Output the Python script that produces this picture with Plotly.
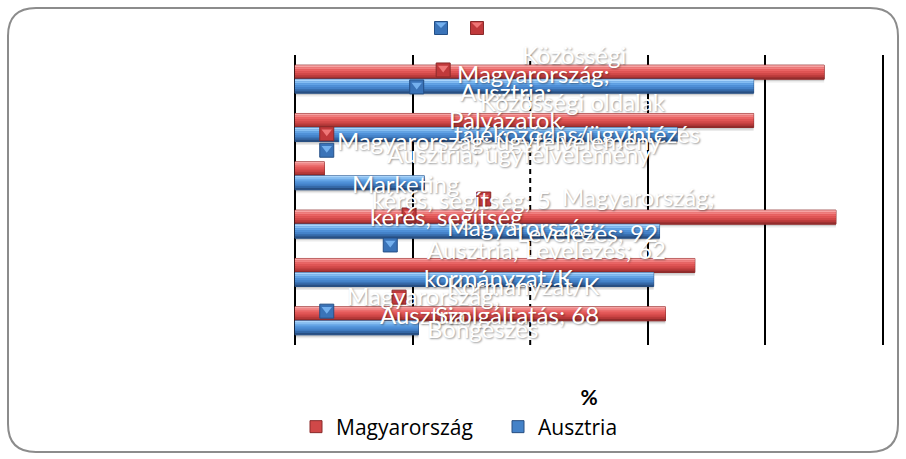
import plotly.graph_objects as go

# Survey results: share of respondents (%) using each online activity
categories = [
    "Közösségi oldalak",
    "Pályázatok, tájékozódás",
    "Marketing",
    "Levelezés",
    "E-kormányzat/Közigazgatási szolgáltatás",
    "Böngészés",
]
magyarorszag = [90, 78, 5, 92, 68, 63]
ausztria = [78, 65, 22, 62, 61, 21]
series_names = ["Magyarország", "Ausztria"]

W, H = 906, 459
X0, X1 = 295, 883      # plot area (0 % .. 100 %), pixels
Y0, Y1 = 55, 345
PAD = 0.3              # keeps the 0 % and 100 % gridlines inside the plot
UNIT = (X1 - X0) / 100

def px(x):
    return x / W

def py(y):
    return 1 - y / H

BAR_W = 0.29
red_grad = ["#f6a3a3", "#f18080", "#ea6464", "#e05555", "#d04848", "#b83a3a", "#922c2c"]
blue_grad = ["#a9d4fb", "#84bdf2", "#62a3e6", "#4f90d8", "#4482c8", "#3569a8", "#284f82"]

fig = go.Figure()

def add_series(name, values, base_offset, grad, main_color, edge_color):
    # soft drop shadow
    for dy, a in ((0.07, 0.08), (0.04, 0.12)):
        fig.add_trace(go.Bar(
            x=values, y=list(range(len(categories))), orientation="h",
            offset=base_offset + dy, width=BAR_W,
            marker=dict(color=f"rgba(0,0,0,{a})", line=dict(width=0)),
            showlegend=False, hoverinfo="skip"))
    # main bar
    fig.add_trace(go.Bar(
        x=values, y=list(range(len(categories))), orientation="h",
        offset=base_offset, width=BAR_W, name=name,
        customdata=categories,
        hovertemplate="%{customdata}: %{x}%<extra>" + name + "</extra>",
        marker=dict(color=main_color, line=dict(color=edge_color, width=1))))
    # cylindrical shading strips
    n = len(grad)
    for k, c in enumerate(grad):
        fig.add_trace(go.Bar(
            x=values, y=list(range(len(categories))), orientation="h",
            offset=base_offset + k * BAR_W / n, width=BAR_W / n,
            marker=dict(color=c, line=dict(width=0)),
            showlegend=False, hoverinfo="skip"))

add_series(series_names[0], magyarorszag, -BAR_W, red_grad, "#d04848", "#8a2a2a")
add_series(series_names[1], ausztria, 0.0, blue_grad, "#4482c8", "#284f82")

# data-label keys (small bevelled squares)
label_keys = [
    (25.2, -0.19, 0), (20.7, 0.16, 1), (5.4, 1.13, 0), (5.4, 1.47, 1),
    (32.1, 2.48, 0), (19.4, 2.81, 0), (16.2, 3.43, 1), (17.7, 4.51, 0),
    (5.4, 4.80, 1),
]
key_fill = ["#c0393b", "#3a73b8"]
key_edge = ["#8a2a2a", "#244f86"]
key_light = ["#ef7777", "#74b0ee"]
for s in (0, 1):
    kx = [k[0] for k in label_keys if k[2] == s]
    ky = [k[1] for k in label_keys if k[2] == s]
    fig.add_trace(go.Scatter(
        x=kx, y=ky, mode="markers", showlegend=False, hoverinfo="skip",
        marker=dict(symbol="square", size=14, color=key_fill[s],
                    line=dict(color=key_edge[s], width=1))))
    fig.add_trace(go.Scatter(
        x=kx, y=[v - 0.04 for v in ky], mode="markers", showlegend=False,
        hoverinfo="skip",
        marker=dict(symbol="triangle-down", size=9, color=key_light[s],
                    line=dict(width=0))))

# data labels (white text with a soft shadow)
labels = [
    ("Közösségi", 38.3, -0.50),
    ("Magyarország;", 27.2, -0.11),
    ("Ausztria;", 27.7, 0.245),
    ("Közösségi oldalak", 31.1, 0.47),
    ("Pályázatok", 25.9, 0.84),
    ("tájékozódás/ügyintézés", 26.7, 1.13),
    ("Magyarország; ügyfélvélemény", 6.8, 1.26),
    ("Ausztria; ügyfélvélemény", 15.3, 1.53),
    ("Marketing", 9.35, 2.15),
    (f"kérés, segítség; {magyarorszag[2]}", 12.8, 2.48),
    ("Magyarország;", 45.1, 2.42),
    ("kérés, segítség", 12.4, 2.85),
    ("Magyarország;", 25.5, 3.04),
    (f"Levelezés; {magyarorszag[3]}", 37.4, 3.18),
    (f"Ausztria; Levelezés; {ausztria[3]}", 22.1, 3.53),
    ("kormányzat/K", 21.6, 4.11),
    ("Kormányzat/K", 25.5, 4.26),
    ("Magyarország;", 8.5, 4.47),
    ("Ausztria;", 14.1, 4.86),
    (f"Szolgáltatás; {magyarorszag[4]}", 23.5, 4.86),
    ("Böngészés", 22.1, 5.15),
    ("Böngészés", 9.35, 5.54),
]
annotations = []
for text, lx, ly in labels:
    annotations.append(dict(
        x=lx, y=ly, xref="x", yref="y", text=text, showarrow=False,
        xanchor="left", yanchor="middle",
        font=dict(family="Lato, Open Sans, sans-serif", size=24, color="white",
                  shadow="1px 1px 2px rgba(0,0,0,0.4)")))

shapes = []
# rounded chart border
r = 28
bx0, by0, bx1, by1 = 8, 8, 898, 452
path = (
    f"M {px(bx0 + r)},{py(by0)} L {px(bx1 - r)},{py(by0)} "
    f"Q {px(bx1)},{py(by0)} {px(bx1)},{py(by0 + r)} "
    f"L {px(bx1)},{py(by1 - r)} "
    f"Q {px(bx1)},{py(by1)} {px(bx1 - r)},{py(by1)} "
    f"L {px(bx0 + r)},{py(by1)} "
    f"Q {px(bx0)},{py(by1)} {px(bx0)},{py(by1 - r)} "
    f"L {px(bx0)},{py(by0 + r)} "
    f"Q {px(bx0)},{py(by0)} {px(bx0 + r)},{py(by0)} Z"
)
shapes.append(dict(type="path", path=path, xref="paper", yref="paper",
                   line=dict(color="#8c8c8c", width=2), layer="below"))
# dashed gridline at 40 %
shapes.append(dict(type="line", x0=40, x1=40, y0=0, y1=1, xref="x", yref="y domain",
                   line=dict(color="black", width=2, dash="5px,4px"), layer="below"))
# stray legend keys at the top
for cx, s in ((441, 1), (477, 0)):
    shapes.append(dict(type="rect", xref="paper", yref="paper",
                       x0=px(cx - 6.5), x1=px(cx + 6.5), y0=py(28 + 6.5), y1=py(28 - 6.5),
                       fillcolor=key_fill[s], line=dict(color=key_edge[s], width=1)))
    shapes.append(dict(type="path", xref="paper", yref="paper",
                       path=f"M {px(cx - 5.5)},{py(22.5)} L {px(cx + 5.5)},{py(22.5)} "
                            f"L {px(cx)},{py(28)} Z",
                       fillcolor=key_light[s], line=dict(width=0)))

fig.update_layout(
    width=W, height=H,
    margin=dict(l=0, r=0, t=0, b=0),
    paper_bgcolor="white", plot_bgcolor="rgba(0,0,0,0)",
    barmode="overlay",
    font=dict(family="Lato, Open Sans, sans-serif", color="black"),
    xaxis=dict(
        domain=[px(X0 - PAD * UNIT), px(X1 + PAD * UNIT)], range=[-PAD, 100 + PAD],
        tickvals=[0, 20, 60, 80, 100], showgrid=True, gridcolor="black", gridwidth=2,
        showticklabels=False, zeroline=False, showline=False, ticks="",
        title=dict(text="<b>%</b>", font=dict(size=21), standoff=45),
    ),
    yaxis=dict(
        domain=[py(Y1), py(Y0)], range=[len(categories) - 0.5, -0.5],
        showticklabels=False, showgrid=False, zeroline=False, ticks="",
    ),
    legend=dict(
        orientation="h", x=px(296), xanchor="left", y=py(427), yanchor="middle",
        font=dict(family="Open Sans, sans-serif", size=21),
        bgcolor="rgba(0,0,0,0)", traceorder="normal",
        entrywidth=157, entrywidthmode="pixels",
    ),
    annotations=annotations,
    shapes=shapes,
    showlegend=True,
)

fig.write_html("out.html")
